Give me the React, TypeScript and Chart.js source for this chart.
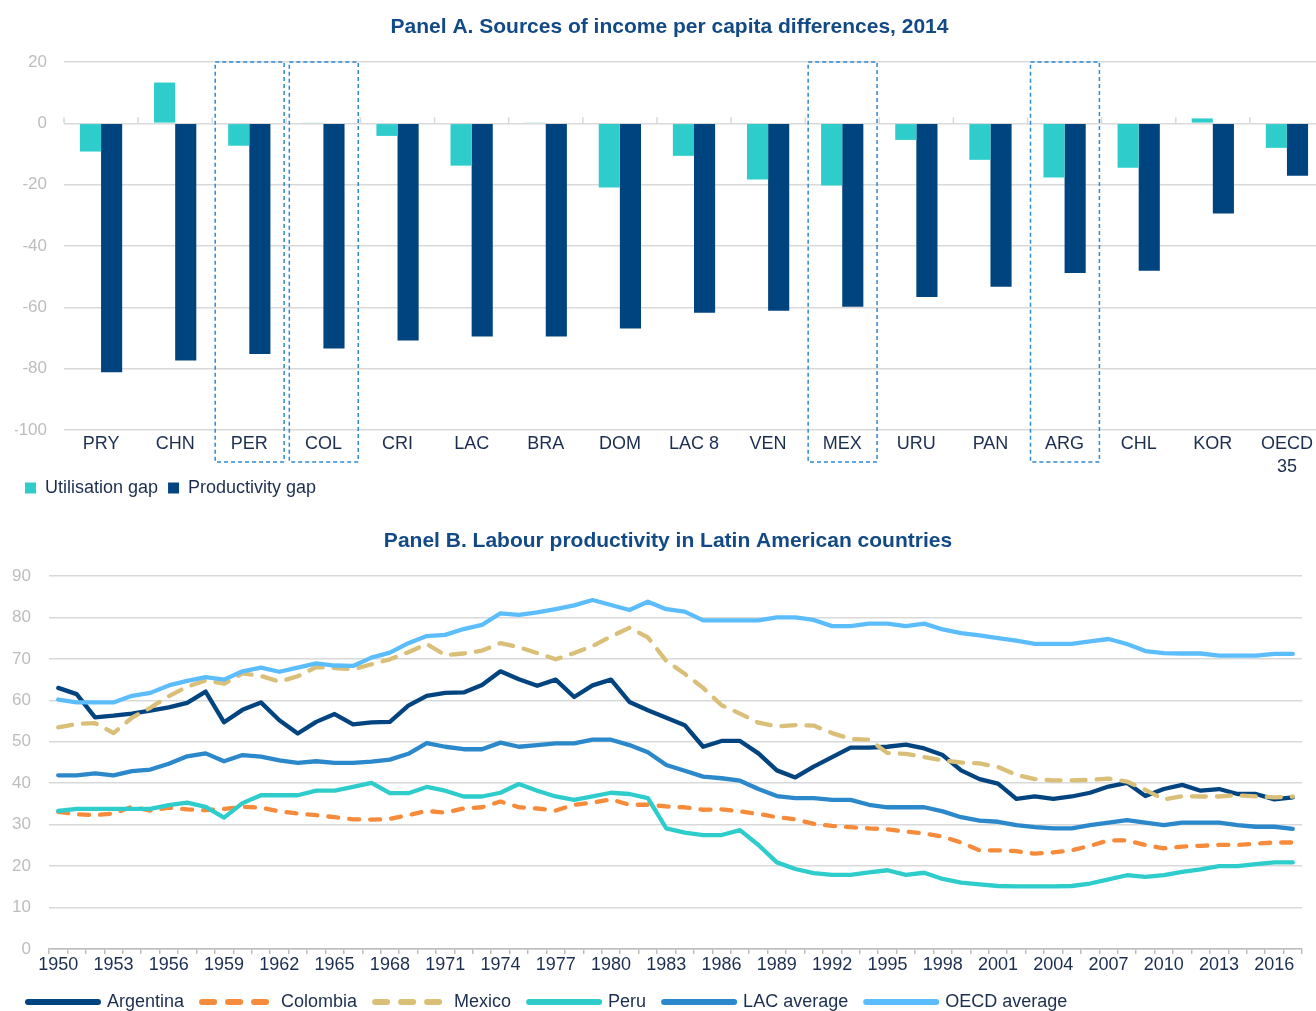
import React, { useEffect, useRef } from 'react';
import { Chart, registerables } from 'chart.js';

Chart.register(...registerables);

const FONT = "'Liberation Sans', Arial, Helvetica, sans-serif";
const TITLE_COLOR = '#134A86';
const LABEL_COLOR = '#1C2E50';
const TICK_GRAY = '#BDBDBD';
const GRID_GRAY = '#D9D9D9';

// ---------- Panel A data ----------
const countries = ['PRY', 'CHN', 'PER', 'COL', 'CRI', 'LAC', 'BRA', 'DOM', 'LAC 8', 'VEN', 'MEX', 'URU', 'PAN', 'ARG', 'CHL', 'KOR', 'OECD 35'];
const utilisationGap = [-9.2, 13.3, -7.3, 0.2, -4.1, -13.8, 0.3, -20.9, -10.6, -18.3, -20.3, -5.4, -11.9, -17.7, -14.5, 1.6, -8.0];
const productivityGap = [-81.2, -77.3, -75.2, -73.4, -70.8, -69.5, -69.5, -66.9, -61.8, -61.1, -59.8, -56.6, -53.3, -48.8, -48.1, -29.4, -17.1];
const highlighted = ['PER', 'COL', 'MEX', 'ARG'];
const panelATicks = [20, 0, -20, -40, -60, -80, -100];

// ---------- Panel B data ----------
const years = [
  1950, 1951, 1952, 1953, 1954, 1955, 1956, 1957, 1958, 1959,
  1960, 1961, 1962, 1963, 1964, 1965, 1966, 1967, 1968, 1969,
  1970, 1971, 1972, 1973, 1974, 1975, 1976, 1977, 1978, 1979,
  1980, 1981, 1982, 1983, 1984, 1985, 1986, 1987, 1988, 1989,
  1990, 1991, 1992, 1993, 1994, 1995, 1996, 1997, 1998, 1999,
  2000, 2001, 2002, 2003, 2004, 2005, 2006, 2007, 2008, 2009,
  2010, 2011, 2012, 2013, 2014, 2015, 2016, 2017,
];
const yearTickLabels = [1950, 1953, 1956, 1959, 1962, 1965, 1968, 1971, 1974, 1977, 1980, 1983, 1986, 1989, 1992, 1995, 1998, 2001, 2004, 2007, 2010, 2013, 2016];

const argentina = [
  63.0, 61.5, 55.9, 56.3, 56.8, 57.5, 58.3, 59.4, 62.1, 54.7,
  57.7, 59.5, 55.2, 52.0, 54.8, 56.7, 54.2, 54.7, 54.8, 58.7,
  61.1, 61.8, 61.9, 63.7, 67.0, 65.1, 63.5, 65.0, 60.8, 63.6,
  65.0, 59.6, 57.6, 55.8, 54.0, 48.8, 50.2, 50.2, 47.2, 43.1,
  41.4, 44.0, 46.3, 48.6, 48.6, 48.8, 49.3, 48.4, 46.8, 43.1,
  41.0, 39.9, 36.2, 36.8, 36.2, 36.8, 37.7, 39.2, 40.1, 36.9,
  38.6, 39.6, 38.2, 38.6, 37.4, 37.4, 36.1, 36.6,
];
const colombia = [
  33.1, 32.5, 32.3, 32.7, 34.3, 33.4, 34.1, 33.7, 33.5, 33.8,
  34.3, 34.1, 33.2, 32.7, 32.3, 31.8, 31.3, 31.2, 31.4, 32.3,
  33.3, 32.9, 33.9, 34.2, 35.6, 34.2, 33.9, 33.4, 34.8, 35.3,
  36.1, 34.8, 34.8, 34.4, 34.2, 33.6, 33.7, 33.2, 32.6, 31.8,
  31.3, 30.2, 29.7, 29.4, 29.1, 28.9, 28.3, 27.9, 27.1, 25.7,
  23.8, 23.8, 23.6, 23.0, 23.3, 23.8, 24.9, 26.2, 26.2, 25.1,
  24.3, 24.7, 24.9, 25.1, 25.1, 25.4, 25.7, 25.7,
];
const mexico = [
  53.5, 54.3, 54.5, 52.1, 55.8, 58.2, 61.0, 63.3, 64.8, 64.0,
  66.5, 65.9, 64.5, 65.8, 68.0, 67.8, 67.5, 68.7, 69.9, 71.6,
  73.6, 70.9, 71.3, 72.0, 73.8, 72.8, 71.4, 69.9, 71.4, 73.1,
  75.4, 77.5, 75.2, 69.5, 66.4, 63.0, 58.8, 56.8, 54.6, 53.7,
  54.0, 53.9, 52.1, 50.7, 50.5, 47.3, 47.1, 46.3, 45.5, 45.0,
  44.8, 43.9, 42.0, 41.0, 40.7, 40.7, 40.8, 41.1, 40.4, 38.4,
  36.1, 36.9, 36.8, 36.8, 37.1, 36.8, 36.6, 36.8,
];
const peru = [
  33.3, 33.8, 33.8, 33.8, 33.8, 33.8, 34.7, 35.3, 34.3, 31.7,
  35.2, 37.1, 37.1, 37.1, 38.2, 38.2, 39.1, 40.1, 37.6, 37.6,
  39.1, 38.2, 36.8, 36.8, 37.7, 39.8, 38.2, 36.8, 36.0, 36.8,
  37.7, 37.4, 36.4, 29.1, 28.1, 27.5, 27.5, 28.7, 25.1, 20.9,
  19.3, 18.3, 17.9, 17.9, 18.5, 19.0, 17.9, 18.4, 16.9, 16.0,
  15.6, 15.2, 15.1, 15.1, 15.1, 15.2, 15.8, 16.8, 17.8, 17.4,
  17.8, 18.6, 19.2, 20.0, 20.0, 20.5, 20.9, 20.9,
];
const lacAverage = [
  41.9, 41.9, 42.4, 41.9, 42.9, 43.3, 44.7, 46.5, 47.2, 45.3,
  46.8, 46.4, 45.5, 44.9, 45.3, 44.9, 44.9, 45.2, 45.7, 47.1,
  49.7, 48.8, 48.2, 48.2, 49.8, 48.8, 49.2, 49.6, 49.6, 50.5,
  50.5, 49.2, 47.5, 44.4, 43.0, 41.6, 41.2, 40.6, 38.6, 36.9,
  36.4, 36.4, 36.0, 36.0, 34.8, 34.2, 34.2, 34.2, 33.2, 31.8,
  31.0, 30.7, 29.9, 29.4, 29.1, 29.1, 29.9, 30.5, 31.1, 30.5,
  29.9, 30.5, 30.5, 30.5, 29.9, 29.5, 29.5, 29.0,
];
const oecdAverage = [
  60.2, 59.5, 59.5, 59.5, 61.1, 61.8, 63.6, 64.7, 65.6, 65.0,
  67.0, 67.9, 66.9, 67.9, 68.9, 68.4, 68.3, 70.3, 71.5, 73.8,
  75.5, 75.8, 77.2, 78.2, 81.0, 80.6, 81.2, 82.0, 82.9, 84.2,
  83.0, 81.8, 83.8, 82.0, 81.4, 79.3, 79.3, 79.3, 79.3, 80.0,
  80.0, 79.4, 77.9, 77.9, 78.5, 78.5, 77.9, 78.5, 77.1, 76.2,
  75.7, 75.0, 74.4, 73.6, 73.6, 73.6, 74.2, 74.8, 73.6, 71.9,
  71.4, 71.3, 71.3, 70.8, 70.8, 70.8, 71.2, 71.2,
];

const seriesB = [
  { label: 'Argentina', data: argentina, color: '#02447F', dash: [] as number[], legendDash: [] as number[] },
  { label: 'Colombia', data: colombia, color: '#F68B3B', dash: [10, 11], legendDash: [12, 14] },
  { label: 'Mexico', data: mexico, color: '#D9BF78', dash: [14, 11], legendDash: [12, 14] },
  { label: 'Peru', data: peru, color: '#2ECDCC', dash: [] as number[], legendDash: [] as number[] },
  { label: 'LAC average', data: lacAverage, color: '#2B88CB', dash: [] as number[], legendDash: [] as number[] },
  { label: 'OECD average', data: oecdAverage, color: '#5CBDFD', dash: [] as number[], legendDash: [] as number[] },
];

const highlightPlugin = {
  id: 'highlightBoxes',
  afterDraw(chart: any) {
    const x = chart.scales.x;
    const area = chart.chartArea;
    const ctx = chart.ctx;
    const w = x.getPixelForValue(1) - x.getPixelForValue(0);
    ctx.save();
    ctx.strokeStyle = '#3089D4';
    ctx.lineWidth = 1.5;
    ctx.setLineDash([4, 3]);
    highlighted.forEach((c) => {
      const i = countries.indexOf(c);
      const cx = x.getPixelForValue(i);
      ctx.strokeRect(cx - 0.46 * w, area.top, 0.93 * w, area.bottom + 32 - area.top);
    });
    ctx.restore();
  },
};

const zeroTicksPlugin = {
  id: 'zeroTicks',
  beforeDatasetsDraw(chart: any) {
    const x = chart.scales.x;
    const y = chart.scales.y;
    const ctx = chart.ctx;
    const y0 = y.getPixelForValue(0);
    const w = x.getPixelForValue(1) - x.getPixelForValue(0);
    ctx.save();
    ctx.strokeStyle = GRID_GRAY;
    ctx.lineWidth = 1.5;
    for (let i = 0; i <= countries.length; i++) {
      const px = x.getPixelForValue(0) - w / 2 + i * w;
      ctx.beginPath();
      ctx.moveTo(px, y0);
      ctx.lineTo(px, y0 - 6);
      ctx.stroke();
    }
    ctx.restore();
  },
};

// Centre panel B's title over the same page centre as panel A's title.
const titleShiftPlugin = {
  id: 'titleShift',
  afterLayout(chart: any) {
    const t = chart.titleBlock;
    if (t) {
      t.left += 12;
      t.right += 12;
    }
  },
};

function PanelA() {
  const ref = useRef<HTMLCanvasElement | null>(null);
  useEffect(() => {
    if (!ref.current) return;
    const chart = new Chart(ref.current, {
      type: 'bar',
      data: {
        labels: countries.map((c) => (c === 'OECD 35' ? ['OECD', '35'] : c)),
        datasets: [
          { label: 'Utilisation gap', data: utilisationGap, backgroundColor: '#2ECDCC', categoryPercentage: 0.57, barPercentage: 1 },
          { label: 'Productivity gap', data: productivityGap, backgroundColor: '#00447F', categoryPercentage: 0.57, barPercentage: 1 },
        ],
      },
      options: {
        responsive: false,
        animation: false,
        devicePixelRatio: 1,
        layout: { autoPadding: false, padding: { left: 15, right: 6, top: 0, bottom: 3 } },
        plugins: {
          title: {
            display: true,
            text: 'Panel A. Sources of income per capita differences, 2014',
            color: TITLE_COLOR,
            font: { family: FONT, size: 21, weight: 'bold' },
            padding: { top: 14.4, bottom: 22.4 },
          },
          legend: {
            position: 'bottom',
            align: 'start',
            labels: { boxWidth: 11, boxHeight: 11, padding: 10, color: LABEL_COLOR, font: { family: FONT, size: 18 } },
          },
          tooltip: { enabled: false },
        },
        scales: {
          x: {
            grid: { display: false, drawTicks: false },
            border: { display: false },
            ticks: { color: LABEL_COLOR, font: { family: FONT, size: 18, lineHeight: 1.28 }, padding: 2.5, autoSkip: false, maxRotation: 0 },
            afterFit: (s: any) => {
              s.height = 39;
              s._computeLabelArea = () => undefined;
            },
          },
          y: {
            min: -100,
            max: 20,
            afterBuildTicks: (s: any) => { s.ticks = panelATicks.map((v) => ({ value: v })); },
            ticks: { color: TICK_GRAY, font: { family: FONT, size: 17 }, padding: 17 },
            grid: { color: GRID_GRAY, lineWidth: 1.5, drawTicks: false },
            border: { display: false },
            afterFit: (s: any) => { s.width = 49; },
          },
        },
      } as any,
      plugins: [zeroTicksPlugin, highlightPlugin],
    });
    return () => chart.destroy();
  }, []);
  return <canvas ref={ref} width={1330} height={510} style={{ position: 'absolute', left: 0, top: 0 }} />;
}

function PanelB() {
  const ref = useRef<HTMLCanvasElement | null>(null);
  useEffect(() => {
    if (!ref.current) return;
    const chart = new Chart(ref.current, {
      type: 'line',
      data: {
        labels: years.map(String),
        datasets: seriesB.map((s, i) => ({
          label: s.label,
          data: s.data,
          borderColor: s.color,
          backgroundColor: s.color,
          borderWidth: 4.3,
          borderDash: s.dash,
          borderCapStyle: 'round',
          borderJoinStyle: 'round',
          pointRadius: 0,
          tension: 0,
          fill: false,
          order: seriesB.length - i,
        })),
      },
      options: {
        responsive: false,
        animation: false,
        devicePixelRatio: 1,
        layout: { autoPadding: false, padding: { left: 10, right: 14, top: 0, bottom: 4 } },
        plugins: {
          title: {
            display: true,
            text: 'Panel B. Labour productivity in Latin American countries',
            color: TITLE_COLOR,
            font: { family: FONT, size: 21, weight: 'bold' },
            padding: { top: 23.4, bottom: 22.4 },
          },
          legend: {
            position: 'bottom',
            align: 'start',
            labels: {
              usePointStyle: true,
              pointStyleWidth: 70,
              padding: 18,
              color: LABEL_COLOR,
              font: { family: FONT, size: 18 },
              generateLabels: () =>
                seriesB.map((s, i) => ({
                  text: s.label,
                  fillStyle: s.color,
                  strokeStyle: s.color,
                  lineWidth: 6,
                  lineDash: s.legendDash,
                  lineCap: 'round',
                  pointStyle: 'line',
                  hidden: false,
                  datasetIndex: i,
                  fontColor: LABEL_COLOR,
                })),
            },
          },
          tooltip: { enabled: false },
        },
        scales: {
          x: {
            offset: true,
            grid: { offset: true, drawOnChartArea: false, drawTicks: true, tickLength: 5, color: TICK_GRAY, lineWidth: 1.5 },
            border: { display: true, color: TICK_GRAY, width: 1.5 },
            ticks: {
              autoSkip: false,
              maxRotation: 0,
              padding: 0,
              color: LABEL_COLOR,
              font: { family: FONT, size: 18 },
              callback: (_v: any, i: number) => (yearTickLabels.includes(years[i]) ? String(years[i]) : ''),
            },
            afterFit: (s: any) => { s.height = 26; },
          },
          y: {
            min: 0,
            max: 90,
            ticks: { stepSize: 10, padding: 18, color: TICK_GRAY, font: { family: FONT, size: 17 } },
            grid: { color: GRID_GRAY, lineWidth: 1.5, drawTicks: false },
            border: { display: false },
            afterFit: (s: any) => { s.width = 39; },
          },
        },
      } as any,
      plugins: [titleShiftPlugin],
    });
    return () => chart.destroy();
  }, []);
  return <canvas ref={ref} width={1316} height={520} style={{ position: 'absolute', left: 0, top: 505 }} />;
}

export default function App() {
  return (
    <div style={{ position: 'fixed', left: 0, top: 0, width: 1316, height: 1011, overflow: 'hidden', background: '#ffffff' }}>
      <PanelA />
      <PanelB />
    </div>
  );
}
